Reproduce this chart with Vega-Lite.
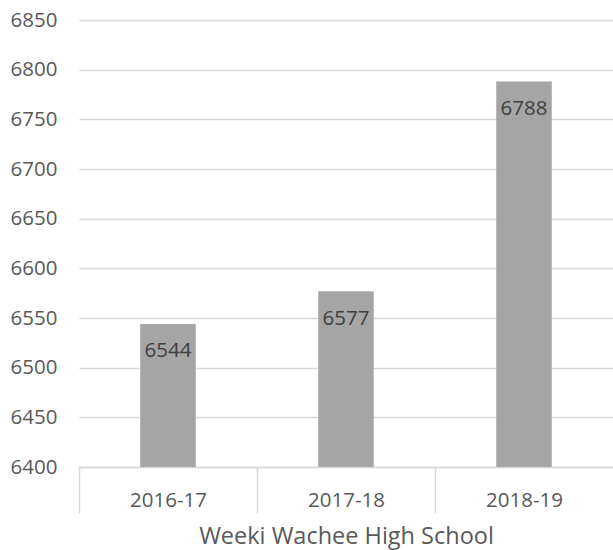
{
  "$schema": "https://vega.github.io/schema/vega-lite/v6.json",
  "width": 534,
  "height": 447,
  "autosize": {"type": "none"},
  "padding": {"left": 79, "top": 20, "right": 0, "bottom": 83},
  "config": {"view": {"stroke": null}, "font": "Open Sans"},
  "data": {"values": [
    {"year": "2016-17", "value": 6544},
    {"year": "2017-18", "value": 6577},
    {"year": "2018-19", "value": 6788}
  ]},
  "encoding": {
    "x": {
      "field": "year", "type": "nominal",
      "scale": {"paddingInner": 0.688, "paddingOuter": 0.344},
      "title": "Weeki Wachee High School",
      "axis": {
        "labelAngle": 0, "labelFont": "Open Sans", "labelFontSize": 20.5, "labelColor": "#595959",
        "domainColor": "#d9d9d9", "domainWidth": 1.5,
        "tickOffset": -89, "labelOffset": 89, "tickSize": 46, "tickColor": "#d9d9d9", "tickWidth": 1.5,
        "labelPadding": -23,
        "titleFont": "Open Sans", "titleFontSize": 23.5, "titleFontWeight": "normal", "titleColor": "#595959", "titlePadding": 11
      }
    },
    "y": {
      "field": "value", "type": "quantitative",
      "scale": {"domain": [6400, 6850], "nice": false, "zero": false},
      "title": null,
      "axis": {
        "values": [6400, 6450, 6500, 6550, 6600, 6650, 6700, 6750, 6800, 6850],
        "format": "d",
        "domain": false, "ticks": false, "grid": true, "gridColor": "#d9d9d9", "gridWidth": 1.5,
        "labelFont": "Open Sans", "labelFontSize": 20.5, "labelColor": "#595959", "labelPadding": 22
      }
    }
  },
  "layer": [
    {"mark": {"type": "bar", "color": "#a5a5a5"}, "encoding": {"y2": {"datum": 6400}}},
    {"mark": {"type": "text", "baseline": "middle", "dy": 27.5, "font": "Open Sans", "fontSize": 20.5, "color": "#404040"},
     "encoding": {"text": {"field": "value", "type": "quantitative", "format": "d"}}}
  ]
}
